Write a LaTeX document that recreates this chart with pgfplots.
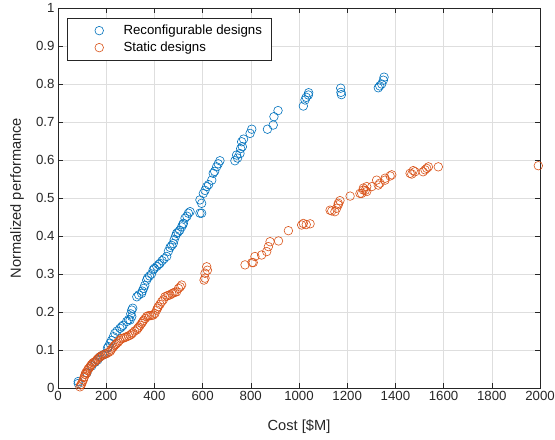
\documentclass[border=0pt]{standalone}
\usepackage{pgfplots}
\pgfplotsset{compat=1.18}
\usepackage{fontspec}
\setmainfont{Liberation Sans}
\definecolor{mblue}{rgb}{0,0.447,0.741}
\definecolor{morange}{rgb}{0.85,0.325,0.098}
\definecolor{axgray}{rgb}{0.15,0.15,0.15}
\definecolor{gridgray}{rgb}{0.87,0.87,0.87}
\pgfplotsset{mylegend/.style={legend image code/.code={\path (0bp,0bp) (47bp,0bp); \draw[##1] plot coordinates {(25bp,0bp)};}}}
\begin{document}
\begin{tikzpicture}
\begin{axis}[
  scale only axis, width=482bp, height=380bp,
  xmin=0, xmax=2000, ymin=0, ymax=1,
  xtick={0,200,400,600,800,1000,1200,1400,1600,1800,2000},
  ytick={0,0.1,0.2,0.3,0.4,0.5,0.6,0.7,0.8,0.9,1},
  yticklabels={0,0.1,0.2,0.3,0.4,0.5,0.6,0.7,0.8,0.9,1},
  /pgf/number format/1000 sep={},
  /pgf/number format/assume math mode=true,
  tick align=inside, major tick length=5bp,
  tick style={axgray, line width=0.5bp},
  axis line style={axgray, line width=0.5bp},
  grid=major, grid style={gridgray, line width=0.5bp},
  tick label style={font=\fontsize{13.3}{15}\selectfont, text=axgray},
  xlabel={Cost [\$M]}, ylabel={Normalized performance},
  label style={font=\fontsize{14.7}{17}\selectfont, text=axgray},
  xlabel style={at={([yshift=-39bp]axis description cs:0.5,0)}, anchor=center},
  ylabel style={at={([xshift=-41bp]axis description cs:0,0.5)}, anchor=center, rotate=0},
  legend style={at={(0.018,0.974)}, anchor=north west, draw=axgray, line width=0.5bp, fill=white,
    font=\fontsize{13.3}{15}\selectfont, inner xsep=7bp, inner ysep=4bp,
    nodes={text height=10bp, text depth=3bp, inner ysep=2bp}},
  legend cell align=left,
]
\addplot[only marks, mark=o, mark size=4.3bp, color=mblue, line width=0.6bp, mylegend] coordinates {
(84,0.012)(84,0.017)(120,0.04)(140,0.058)(155,0.068)(165,0.074)(174,0.082)(185,0.086)(195,0.09)
(205,0.105)(209,0.109)(216,0.118)(222,0.125)(230,0.135)(236,0.144)(245,0.15)(257,0.157)
(264,0.161)(270,0.165)(285,0.175)(293,0.18)(299,0.179)(302,0.195)(306,0.188)(306,0.205)(310,0.21)
(327,0.24)(335,0.245)(347,0.249)(350,0.255)(355,0.262)(360,0.27)(368,0.284)(372,0.29)(380,0.295)
(388,0.3)(395,0.311)(400,0.315)(410,0.32)(418,0.325)(423,0.328)(432,0.335)(440,0.34)(451,0.346)
(458,0.36)(465,0.37)(472,0.375)(478,0.38)(482,0.39)(488,0.4)(492,0.407)(498,0.41)(505,0.415)
(513,0.424)(518,0.43)(520,0.433)(527,0.447)(535,0.452)(541,0.46)(548,0.464)
(589,0.46)(596,0.46)(589,0.495)(596,0.486)(603,0.512)(610,0.52)(617,0.53)(625,0.535)(638,0.547)
(644,0.565)(650,0.57)(658,0.582)(665,0.59)(672,0.598)
(734,0.598)(741,0.613)(745,0.605)(755,0.617)(758,0.63)(762,0.648)(765,0.635)(770,0.655)
(797,0.670)(804,0.681)(869,0.681)(893,0.692)(896,0.714)(913,0.730)
(1018,0.742)(1025,0.758)(1030,0.765)(1039,0.771)(1040,0.777)
(1173,0.789)(1174,0.778)(1176,0.772)
(1329,0.790)(1335,0.795)(1343,0.800)(1350,0.81)(1353,0.818)
};
\addlegendentry{Reconfigurable designs}
\addplot[only marks, mark=o, mark size=4.3bp, color=morange, line width=0.6bp, mylegend] coordinates {
(91,0.003)(94,0.008)(98,0.01)(101,0.016)(105,0.021)(108,0.028)(110,0.03)(113,0.036)(115,0.04)(119,0.039)
(122,0.046)(125,0.05)(129,0.052)(133,0.056)(137,0.06)(140,0.062)(145,0.066)(150,0.068)(155,0.07)
(161,0.074)(165,0.077)(170,0.08)(175,0.082)(180,0.085)(188,0.087)(194,0.089)(200,0.09)(208,0.093)
(216,0.096)(220,0.1)(225,0.105)(230,0.108)(235,0.112)(240,0.115)(244,0.118)(250,0.121)(255,0.125)
(262,0.13)(271,0.131)(278,0.133)(285,0.135)(292,0.137)(299,0.139)(305,0.142)(310,0.145)(318,0.15)
(327,0.153)(331,0.157)(335,0.16)(341,0.165)(347,0.17)(351,0.174)(355,0.178)(362,0.183)(368,0.188)
(374,0.19)(380,0.19)(388,0.191)(395,0.192)(402,0.196)(409,0.205)(413,0.21)(416,0.214)
(423,0.22)(430,0.227)(437,0.232)(444,0.24)(452,0.242)(458,0.244)(465,0.245)(472,0.248)(478,0.25)
(485,0.252)(492,0.253)(500,0.262)(507,0.266)(513,0.271)
(606,0.284)(610,0.289)(610,0.302)(617,0.319)(620,0.31)
(776,0.324)(805,0.33)(810,0.330)(817,0.346)(845,0.35)(866,0.359)(873,0.372)(880,0.385)(915,0.387)
(956,0.414)(1011,0.429)(1018,0.433)(1030,0.43)(1046,0.432)
(1129,0.468)(1136,0.466)(1149,0.464)(1156,0.473)(1163,0.482)(1163,0.486)(1170,0.493)(1212,0.505)
(1253,0.512)(1260,0.512)(1267,0.521)(1267,0.526)(1275,0.52)(1281,0.517)(1281,0.530)(1302,0.530)
(1322,0.547)(1329,0.534)(1336,0.539)(1357,0.547)(1357,0.552)(1378,0.558)(1385,0.561)
(1461,0.565)(1468,0.563)(1474,0.572)(1481,0.569)(1515,0.569)(1523,0.574)(1530,0.578)(1537,0.582)
(1578,0.582)(1993,0.585)
};
\addlegendentry{Static designs}
\end{axis}
\pgfresetboundingbox
\path ([shift={(-58bp,-52bp)}]current axis.south west) rectangle ([shift={(15bp,8bp)}]current axis.north east);
\end{tikzpicture}
\end{document}
